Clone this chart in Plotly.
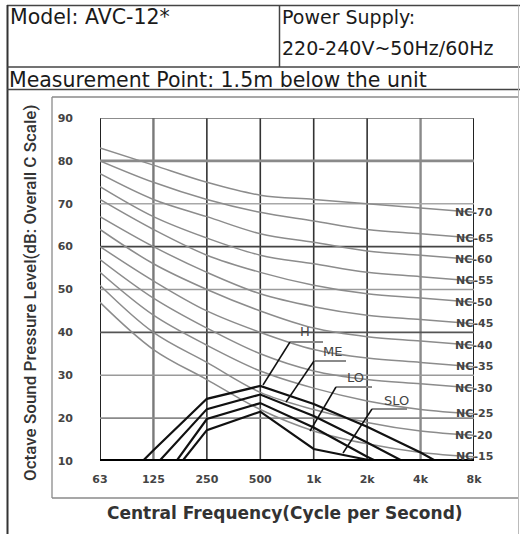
import plotly.graph_objects as go

# ---------------- data ----------------
bands = ["63", "125", "250", "500", "1k", "2k", "4k", "8k"]
y_ticks = [10, 20, 30, 40, 50, 60, 70, 80, 90]

nc_15 = [47, 36, 29, 22, 17, 14, 12, 11]
nc_20 = [51, 40, 33, 26, 22, 19, 17, 16]
nc_25 = [54, 44, 37, 31, 27, 24, 22, 21]
nc_30 = [57, 48, 41, 35, 31, 29, 28, 27]
nc_35 = [60, 52, 45, 40, 36, 34, 33, 32]
nc_40 = [64, 56, 50, 45, 41, 39, 38, 37]
nc_45 = [67, 60, 54, 49, 46, 44, 43, 42]
nc_50 = [71, 64, 58, 54, 51, 49, 48, 47]
nc_55 = [74, 67, 62, 58, 56, 54, 53, 52]
nc_60 = [77, 71, 67, 63, 61, 59, 58, 57]
nc_65 = [80, 75, 71, 68, 66, 64, 63, 62]
nc_70 = [83, 79, 75, 72, 71, 70, 69, 68]
nc_names = ["NC-15", "NC-20", "NC-25", "NC-30", "NC-35", "NC-40",
            "NC-45", "NC-50", "NC-55", "NC-60", "NC-65", "NC-70"]
nc_series = [nc_15, nc_20, nc_25, nc_30, nc_35, nc_40,
             nc_45, nc_50, nc_55, nc_60, nc_65, nc_70]

unit_names = ["H", "ME", "LO", "SLO"]
unit_H = [0, 12.5, 24.5, 27.5, 23.3, 18.0, 12.0, 5.0]
unit_ME = [0, 8.5, 22.1, 25.5, 20.5, 14.3, 7.8, 0]
unit_LO = [0, 2.6, 19.8, 23.5, 17.8, 11.0, 5.0, 0]
unit_SLO = [0, 1.5, 17.2, 21.5, 12.8, 10.3, 4.0, 0]
unit_series = [unit_H, unit_ME, unit_LO, unit_SLO]

# ---------------- geometry helpers (pixel -> paper) ----------------
W, H = 520, 534
L, R, T, B = 100, 474, 118, 461


def PX(x):
    return (x - L) / (R - L)


def PY(y):
    return (B - y) / (B - T)


xs = list(range(len(bands)))

fig = go.Figure()

for name, vals in zip(nc_names, nc_series):
    fig.add_trace(go.Scatter(x=xs, y=vals, mode="lines", name=name,
                             line=dict(color="#8c8c8c", width=1.5,
                                       shape="spline", smoothing=1.0),
                             hoverinfo="skip", showlegend=False))

for name, vals in zip(unit_names, unit_series):
    fig.add_trace(go.Scatter(x=xs, y=vals, mode="lines", name=name,
                             line=dict(color="#111111", width=2.2),
                             showlegend=False))

shapes = []

# grid lines (styles per line)
v_colors = ["#222", "#7a7a7a", "#333", "#333", "#333", "#333", "#8a8a8a", "#222"]
v_widths = [2, 2.4, 1.6, 1.6, 1.6, 1.6, 2.4, 2]
for i, (c, w) in enumerate(zip(v_colors, v_widths)):
    shapes.append(dict(type="line", xref="x", yref="y", x0=i, x1=i,
                       y0=y_ticks[0], y1=y_ticks[-1],
                       line=dict(color=c, width=w), layer="below"))

h_colors = ["#000", "#8a8a8a", "#9a9a9a", "#555", "#9a9a9a", "#444",
            "#a8a8a8", "#8a8a8a", "#666"]
h_widths = [4, 1.6, 1.6, 1.6, 1.6, 1.6, 1.4, 2.6, 1.6]
for v, c, w in zip(y_ticks, h_colors, h_widths):
    shapes.append(dict(type="line", xref="x", yref="y", x0=0, x1=len(bands) - 1,
                       y0=v, y1=v, line=dict(color=c, width=w),
                       layer="above" if v == y_ticks[0] else "below"))


def pline(x0, y0, x1, y1, color="#444", width=1.5):
    shapes.append(dict(type="line", xref="paper", yref="paper",
                       x0=PX(x0), y0=PY(y0), x1=PX(x1), y1=PY(y1),
                       line=dict(color=color, width=width), layer="above"))


# header table
pline(7, 5.5, 520, 5.5, "#444", 1.5)
pline(7.5, 5, 7.5, 534, "#333", 2)
pline(7, 67, 520, 67, "#444", 1.5)
pline(279.5, 5.5, 279.5, 67, "#444", 1.5)
pline(7, 89.5, 520, 89.5, "#444", 1.5)
pline(518.5, 5.5, 518.5, 534, "#bbb", 1)
# inner frame
pline(52, 97, 518, 97, "#8a8a8a", 1.3)
pline(52, 97, 52, 498, "#8a8a8a", 1.3)
pline(52, 498, 518, 498, "#8a8a8a", 1.3)

# leader lines and underlines for unit labels
lbl = {
    "H": dict(text=(305, 331), ul=(290, 323, 342), lead=(263, 385)),
    "ME": dict(text=(332, 351), ul=(314, 346, 361), lead=(286, 402)),
    "LO": dict(text=(355, 377), ul=(336, 372, 387), lead=(310, 431)),
    "SLO": dict(text=(396, 400), ul=(372, 407, 409), lead=(343, 453)),
}
annotations = []
for name in unit_names:
    d = lbl[name]
    ux0, ux1, uy = d["ul"]
    pline(ux0, uy, ux1, uy, "#8a8a8a", 2)
    pline(ux0, uy, d["lead"][0], d["lead"][1], "#111", 1.5)
    annotations.append(dict(xref="paper", yref="paper", x=PX(d["text"][0]),
                            y=PY(d["text"][1]), text=name, showarrow=False,
                            xanchor="center", yanchor="middle",
                            font=dict(family="DejaVu Sans", size=13, color="#444")))

# NC labels at right edge
for name, vals in zip(nc_names, nc_series):
    annotations.append(dict(xref="x", yref="y", x=len(bands) - 1, y=vals[-1],
                            text=name, showarrow=False, xanchor="center",
                            yanchor="middle",
                            font=dict(family="DejaVu Sans", size=11,
                                      color="#444", weight="bold")))

# header texts
hdr_font = dict(family="DejaVu Sans", size=19, color="#1a1a1a")
annotations += [
    dict(xref="paper", yref="paper", x=PX(8), y=PY(17), text="Model: AVC-12*",
         showarrow=False, xanchor="left", yanchor="middle",
         font=dict(family="DejaVu Sans", size=20.5, color="#1a1a1a")),
    dict(xref="paper", yref="paper", x=PX(280), y=PY(17), text="Power Supply:",
         showarrow=False, xanchor="left", yanchor="middle", font=hdr_font),
    dict(xref="paper", yref="paper", x=PX(280), y=PY(48), text="220-240V~50Hz/60Hz",
         showarrow=False, xanchor="left", yanchor="middle", font=hdr_font),
    dict(xref="paper", yref="paper", x=PX(7), y=PY(80),
         text="Measurement Point: 1.5m below the unit",
         showarrow=False, xanchor="left", yanchor="middle",
         font=dict(family="DejaVu Sans", size=20.5, color="#1a1a1a")),
    # axis titles
    dict(xref="paper", yref="paper", x=PX(30), y=PY(293),
         text="Octave Sound Pressure Level(dB: Overall C Scale)",
         showarrow=False, textangle=-90, xanchor="center", yanchor="middle",
         font=dict(family="Roboto", size=17, color="#333", weight=500)),
    dict(xref="paper", yref="paper", x=PX(285), y=PY(513),
         text="Central Frequency(Cycle per Second)",
         showarrow=False, xanchor="center", yanchor="middle",
         font=dict(family="DejaVu Sans", size=17, color="#333", weight="bold")),
]

tick_font = dict(family="DejaVu Sans", size=11, color="#444", weight="bold")
fig.update_layout(
    width=W, height=H,
    margin=dict(l=L, r=W - R, t=T, b=H - B, pad=0),
    paper_bgcolor="white", plot_bgcolor="white",
    showlegend=False,
    xaxis=dict(range=[0, len(bands) - 1], tickvals=xs, ticktext=bands,
               showgrid=False, zeroline=False, showline=False,
               ticks="", tickfont=tick_font, ticklabelstandoff=10,
               fixedrange=True),
    yaxis=dict(range=[y_ticks[0], y_ticks[-1]], tickvals=y_ticks,
               ticktext=[str(v) for v in y_ticks],
               showgrid=False, zeroline=False, showline=False,
               ticks="", tickfont=tick_font, ticklabelstandoff=26,
               fixedrange=True),
    shapes=shapes,
    annotations=annotations,
)

fig.write_html("out.html",
               config={"displayModeBar": False},
               post_script="document.body.style.margin='0px';"
                           "document.body.style.overflow='hidden';")
